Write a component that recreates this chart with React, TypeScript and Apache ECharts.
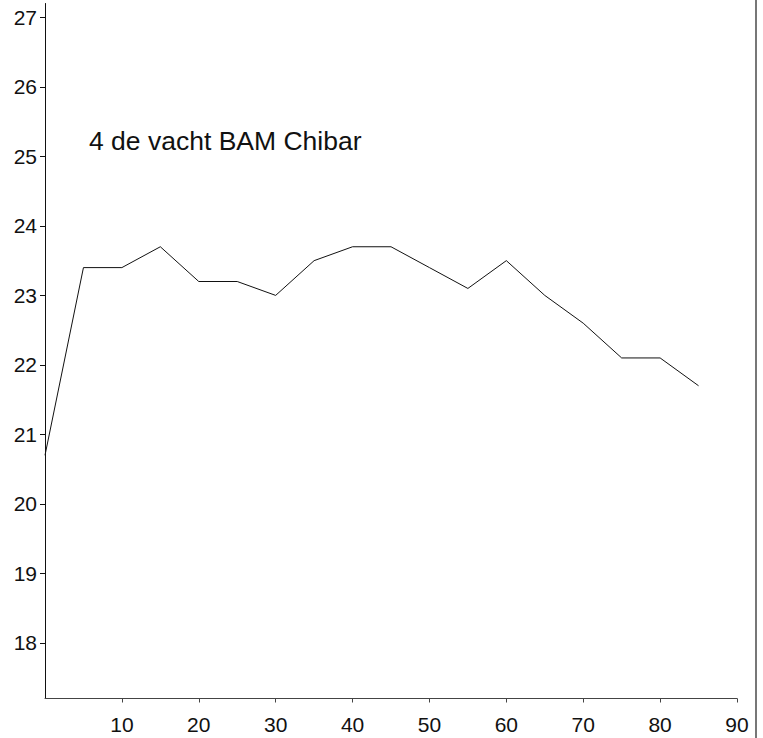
import React, { useEffect, useRef } from "react";
import * as echarts from "echarts";

const xValues = [0, 5, 10, 15, 20, 25, 30, 35, 40, 45, 50, 55, 60, 65, 70, 75, 80, 85];
const yValues = [20.7, 23.4, 23.4, 23.7, 23.2, 23.2, 23.0, 23.5, 23.7, 23.7, 23.4, 23.1, 23.5, 23.0, 22.6, 22.1, 22.1, 21.7];
const xTicks = [10, 20, 30, 40, 50, 60, 70, 80, 90];
const yTicks = [18, 19, 20, 21, 22, 23, 24, 25, 26, 27];
const annotation = "4 de vacht BAM Chibar";

const FONT = "'Liberation Sans', Arial, Helvetica, sans-serif";

export default function App() {
  const ref = useRef<HTMLDivElement>(null);
  useEffect(() => {
    if (!ref.current) return;
    const chart = echarts.init(ref.current, null, { renderer: "svg" });
    chart.setOption({
      animation: false,
      backgroundColor: "#fff",
      grid: { left: 45, right: 26, top: 3.5, bottom: 39.5 },
      xAxis: {
        type: "value",
        min: 0,
        max: 90,
        splitLine: { show: false },
        axisLine: { show: true, lineStyle: { color: "#444", width: 1 } },
        axisTick: { show: true, length: 4, customValues: xTicks, lineStyle: { color: "#444" } },
        axisLabel: {
          customValues: xTicks,
          color: "#111",
          fontSize: 21,
          fontFamily: FONT,
          margin: 15,
        },
      },
      yAxis: {
        type: "value",
        min: 17.2,
        max: 27.2,
        splitLine: { show: false },
        axisLine: { show: true, lineStyle: { color: "#111", width: 1 } },
        axisTick: { show: true, length: 5, customValues: yTicks, lineStyle: { color: "#111" } },
        axisLabel: {
          customValues: yTicks,
          color: "#111",
          fontSize: 21,
          fontFamily: FONT,
          margin: 8,
        },
      },
      series: [
        {
          type: "line",
          data: xValues.map((x, i) => [x, yValues[i]]),
          showSymbol: false,
          symbol: "none",
          lineStyle: { color: "#111", width: 1 },
        },
      ],
      graphic: [
        {
          type: "text",
          left: 89,
          top: 127,
          style: {
            text: annotation,
            fill: "#111",
            fontSize: 26.5,
            fontFamily: FONT,
          },
        },
        {
          type: "line",
          shape: { x1: 756, y1: 0, x2: 756, y2: 738 },
          style: { stroke: "#777", lineWidth: 2 },
        },
      ],
    });
    return () => chart.dispose();
  }, []);
  return <div ref={ref} style={{ width: 763, height: 738, position: "absolute", left: 0, top: 0 }} />;
}
